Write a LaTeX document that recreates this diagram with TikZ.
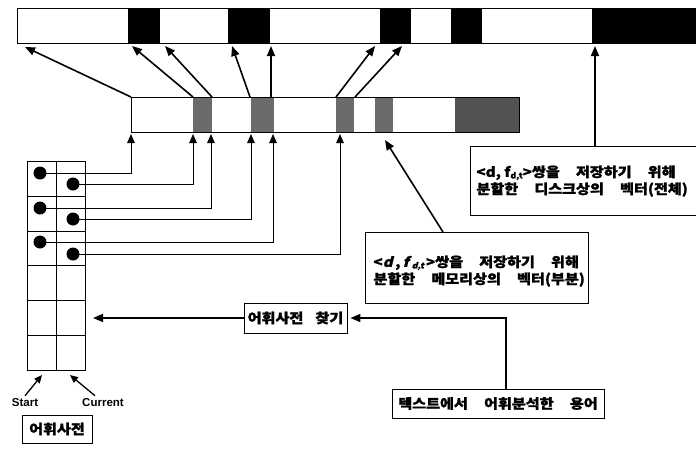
\documentclass[tikz,border=0pt]{standalone}
\usepackage{fontspec}
\usetikzlibrary{arrows.meta}
\newfontfamily\kr[FakeStretch=1.12,BoldFeatures={FakeBold=1.3}]{Noto Sans CJK KR}
\newfontfamily\krsl[FakeStretch=1.12,FakeSlant=0.25,BoldFeatures={FakeBold=1.3}]{Noto Sans CJK KR}
\newfontfamily\lsans{Liberation Sans}
\newcommand{\gsp}{\hspace{1.2em}}
\newcommand{\fdt}[2][0pt]{f\kern#1\raisebox{-1.5pt}{\fontsize{8}{8}\selectfont #2}}
\newcommand{\twolines}[2]{\begin{tabular}{@{}l@{}}\smash{#1}\\ \smash{#2}\end{tabular}}
\begin{document}
\begin{tikzpicture}[x=1pt,y=-1pt,
  arr/.style={line width=1.6pt,-{Triangle[length=10pt,width=8pt]}},
  ptr/.style={line width=1pt,-{Triangle[length=9pt,width=7.5pt]}},
  sarr/.style={line width=1.3pt,-{Triangle[length=8pt,width=7pt]}},
  lbox/.style={draw,line width=0.9pt,inner sep=0pt,
     font=\kr\bfseries\fontsize{13.5}{17}\selectfont},
  dot/.style={circle,fill=black,inner sep=0pt,minimum size=13pt},
  graycell/.style={fill=black!58},
  tiny/.style={font=\lsans\bfseries\fontsize{11.5}{12}\selectfont,inner sep=0pt}
]
\useasboundingbox (0,0) rectangle (696,448);

% ---- top bar (disk vector)
\foreach \a/\b in {128/160,228/270,380/411,451/482,592/702}
  \fill (\a,8) rectangle (\b,43);
\draw[line width=0.9pt] (17,8) rectangle (702,43);

% ---- middle bar (memory vector)
\foreach \a/\b in {193/212,251/274,336/354,375/393}
  \fill[graycell] (\a,97) rectangle (\b,132);
\fill[black!68] (455,97) rectangle (519,132);
\draw[line width=0.9pt] (131,97) rectangle (519,132);

% ---- coordinates
\coordinate (t1) at (25,47);  \coordinate (m1) at (131,97);
\coordinate (t2) at (132,46); \coordinate (m2) at (193,97);
\coordinate (t3) at (165,46); \coordinate (m3) at (212,97);
\coordinate (t4) at (232,46); \coordinate (m4) at (250,97);
\coordinate (t5) at (271,46); \coordinate (m5) at (271,97);
\coordinate (t6) at (375,46); \coordinate (m6) at (336,97);
\coordinate (t7) at (402,46); \coordinate (m7) at (355,97);
\coordinate (t8) at (595,46);

\foreach \i in {1,...,7} \draw[arr] (m\i) -- (t\i);

% ---- dictionary table
\draw[line width=1pt] (27,161) rectangle (85,370);
\draw[line width=1pt] (56,161) -- (56,370);
\foreach \y in {196,231,265,300,335} \draw[line width=1pt] (27,\y) -- (85,\y);

\node[dot] (d1) at (40,173) {};
\node[dot] (d2) at (73,184) {};
\node[dot] (d3) at (40,208) {};
\node[dot] (d4) at (73,219) {};
\node[dot] (d5) at (40,242) {};
\node[dot] (d6) at (73,254) {};

\coordinate (b1) at (131,134);
\coordinate (b2) at (193,134);
\coordinate (b3) at (211,134);
\coordinate (b4) at (251,134);
\coordinate (b5) at (273,134);
\coordinate (b6) at (340,134);
\foreach \i in {1,...,6} \draw[ptr] (d\i.center) -| (b\i);

% ---- boxes
\node[lbox,minimum width=230pt,minimum height=69pt,anchor=north west]
  (diskbox) at (470,146) {};
\node[lbox,draw=none,anchor=west] (disk) at (476,182)
  {\twolines{<d, \fdt{d,t}>쌍을\gsp 저장하기\gsp 위해}{분할한\gsp 디스크상의\gsp 벡터(전체)}};
\node[lbox,minimum width=223pt,minimum height=71pt,anchor=north west]
  (membox) at (365,232) {};
\node[lbox,draw=none,anchor=west] (mem) at (373,272)
  {\twolines{<{\krsl\bfseries d}\hspace{2.5pt},\,{\krsl\bfseries\fdt[3pt]{d,t}}\hspace{2pt}>쌍을\gsp 저장하기\gsp 위해}{분할한\gsp 메모리상의\gsp 벡터(부분)}};
\node[lbox,minimum width=103pt,minimum height=30pt] (lk) at (295.5,318) {어휘사전\hspace{0.9em}찾기};
\node[lbox,minimum width=212pt,minimum height=29pt] (term) at (498,403.5)
  {텍스트에서\gsp 어휘분석한\gsp 용어};
\node[lbox,minimum width=70pt,minimum height=28pt] (dict) at (57,429) {어휘사전};

\coordinate (dtop) at (595,146);
\draw[arr] (dtop) -- (t8);
\coordinate (mtop) at (443,232);
\coordinate (mtip) at (385,140);
\draw[arr] (mtop) -- (mtip);

\coordinate (tblR) at (93,318);
\draw[arr] (lk.west) -- (tblR);
\coordinate (tj) at (506,389);
\draw[arr,shorten >=3pt] (tj) |- (lk.east);

% ---- start / current
\node[tiny] (st) at (25,403) {Start};
\node[tiny] (cu) at (103,403) {Current};
\coordinate (sttip) at (42,375);
\coordinate (cutip) at (70,375);
\draw[sarr] (st.north) ++(0,-3) -- (sttip);
\draw[sarr] (cu.north) ++(-8,-3) -- (cutip);
\end{tikzpicture}
\end{document}
